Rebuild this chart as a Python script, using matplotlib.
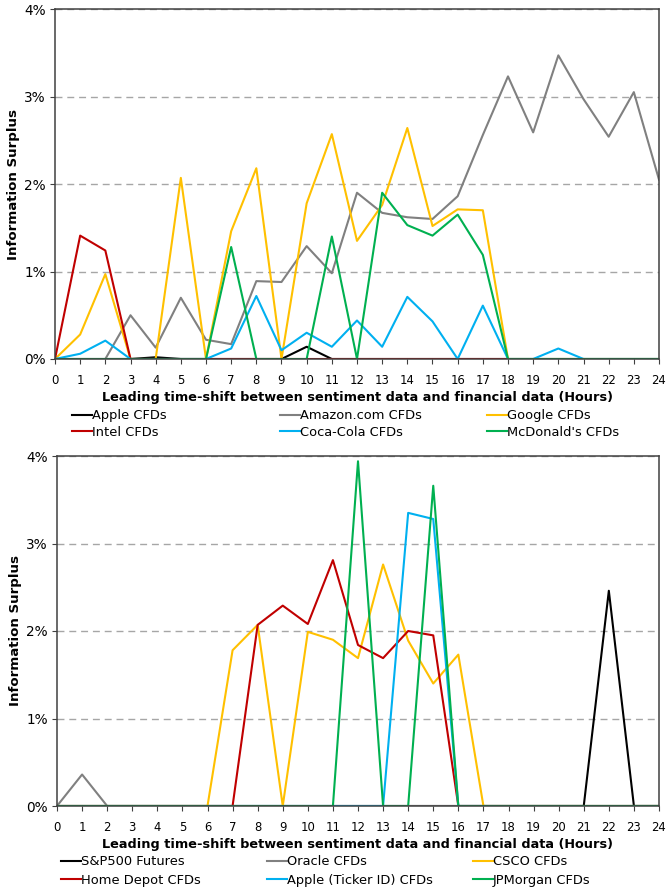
import numpy as np
import matplotlib
matplotlib.use('Agg')
import matplotlib.pyplot as plt
from matplotlib.ticker import PercentFormatter

nan = np.nan

# eixo x: horas de deslocamento
horas = list(range(25))

# GRAFICO 1 (valores em %)
apple = [0, 0, 0, 0, 0.02, 0, 0, 0, 0, 0, 0.14, 0, 0, 0, 0, 0, 0, 0, 0, 0, 0, 0, 0, 0, 0]
amazon = [nan, nan, 0, 0.50, 0.13, 0.70, 0.22, 0.17, 0.89, 0.88, 1.29, 0.98, 1.90, 1.67,
          1.62, 1.60, 1.86, 2.56, 3.23, 2.59, 3.47, 2.97, 2.54, 3.05, 2.05]
google = [0, 0.28, 0.97, 0, 0, 2.07, 0, 1.46, 2.18, 0, 1.78, 2.57, 1.35, 1.76, 2.64,
          1.52, 1.71, 1.70, 0, 0, 0, 0, 0, 0, 0]
intel = [0, 1.41, 1.24, 0, 0, 0, 0, 0, 0, 0, 0, 0, 0, 0, 0, 0, 0, 0, 0,
         nan, nan, nan, nan, nan, nan]
cocacola = [0, 0.06, 0.21, 0, 0, 0, 0, 0.12, 0.72, 0.10, 0.30, 0.14, 0.44, 0.14, 0.71,
            0.43, 0, 0.61, 0, 0, 0.12, 0, 0, 0, 0]
mcdonalds = [0, 0, 0, 0, 0, 0, 0, 1.28, 0, 0, 0, 1.40, 0, 1.90, 1.53, 1.41, 1.65, 1.19,
             0, 0, 0, 0, 0, 0, 0]

# GRAFICO 2
sp500 = [0, 0, 0, 0, 0, 0, 0, 0, 0, 0, 0, 0, 0, 0, 0, 0, 0, 0, 0, 0, 0, 0, 2.46, 0, 0]
oracle = [0, 0.36, 0, 0, 0, 0, 0, 0, 0, 0, 0, 0, 0, 0, 0, 0, 0, 0, 0, 0, 0, 0, 0, 0, 0]
csco = [0, 0, 0, 0, 0, 0, 0, 1.78, 2.07, 0, 1.99, 1.90, 1.69, 2.76, 1.89, 1.40, 1.73,
        0, 0, 0, 0, 0, 0, 0, 0]
homedepot = [0, 0, 0, 0, 0, 0, 0, 0, 2.07, 2.29, 2.08, 2.81, 1.84, 1.69, 2.00, 1.95, 0,
             0, 0, 0, 0, 0, 0, 0, 0]
apple_id = [0, 0, 0, 0, 0, 0, 0, 0, 0, 0, 0, 0, 0, 0, 3.35, 3.28, 0, 0, 0, 0, 0, 0, 0, 0, 0]
jpmorgan = [0, 0, 0, 0, 0, 0, 0, 0, 0, 0, 0, 0, 3.94, 0, 0, 3.66, 0, 0, 0, 0, 0, 0, 0, 0, 0]

series_1 = [('Apple CFDs', apple), ('Amazon.com CFDs', amazon), ('Google CFDs', google),
            ('Intel CFDs', intel), ('Coca-Cola CFDs', cocacola), ("McDonald's CFDs", mcdonalds)]
series_2 = [('S&P500 Futures', sp500), ('Oracle CFDs', oracle), ('CSCO CFDs', csco),
            ('Home Depot CFDs', homedepot), ('Apple (Ticker ID) CFDs', apple_id),
            ('JPMorgan CFDs', jpmorgan)]

CORES = ['#000000', '#808080', '#FFC000', '#C00000', '#00B0F0', '#00B050']
COR_EIXO = '#404040'
XLABEL = 'Leading time-shift between sentiment data and financial data (Hours)'

W, H = 671, 891
plt.rcParams['font.family'] = 'DejaVu Sans'

fig = plt.figure(figsize=(W / 100, H / 100), dpi=100)


def grafico(rect, series, leg_x, leg_y, espaco):
    ax = fig.add_axes(rect)
    linhas = []
    for (nome, valores), cor in zip(series, CORES):
        l, = ax.plot(horas, valores, color=cor, lw=1.5, label=nome)
        linhas.append(l)
    ax.set_xlim(0, 24)
    ax.set_ylim(0, 4)
    ax.set_xticks(horas)
    ax.set_yticks([0, 1, 2, 3, 4])
    ax.yaxis.set_major_formatter(PercentFormatter(decimals=0))
    ax.grid(axis='y', color='#A6A6A6', ls=(0, (5, 3.5)), lw=1.0)
    ax.set_axisbelow(True)
    for s in ax.spines.values():
        s.set_color(COR_EIXO)
        s.set_linewidth(1.1)
    ax.tick_params(axis='x', length=3.5, width=0.8, color=COR_EIXO, labelsize=8.4, pad=7)
    ax.tick_params(axis='y', length=3.5, width=0.8, color=COR_EIXO, labelsize=9.8, pad=3)
    ax.set_xlabel(XLABEL, fontsize=9.3, fontweight='bold', labelpad=3)
    ax.set_ylabel('Information Surplus', fontsize=9.6, fontweight='bold')
    ax.yaxis.set_label_coords(-0.058, 0.5)
    # legenda em 3 colunas
    for j in range(3):
        fig.legend(handles=[linhas[j], linhas[j + 3]], loc='center left',
                   bbox_to_anchor=(leg_x[j] / W, 1 - leg_y / H), frameon=False,
                   fontsize=9.4, handlelength=1.5, handletextpad=0.0, borderpad=0,
                   borderaxespad=0, labelspacing=espaco)
    return ax


grafico([55 / W, 1 - 359 / H, 604 / W, 350 / H], series_1, [72, 280, 487], 424, 0.28)
grafico([57 / W, 1 - 806 / H, 602 / W, 350 / H], series_2, [61, 267, 473], 871, 0.42)

plt.savefig('out.png', dpi=100)
